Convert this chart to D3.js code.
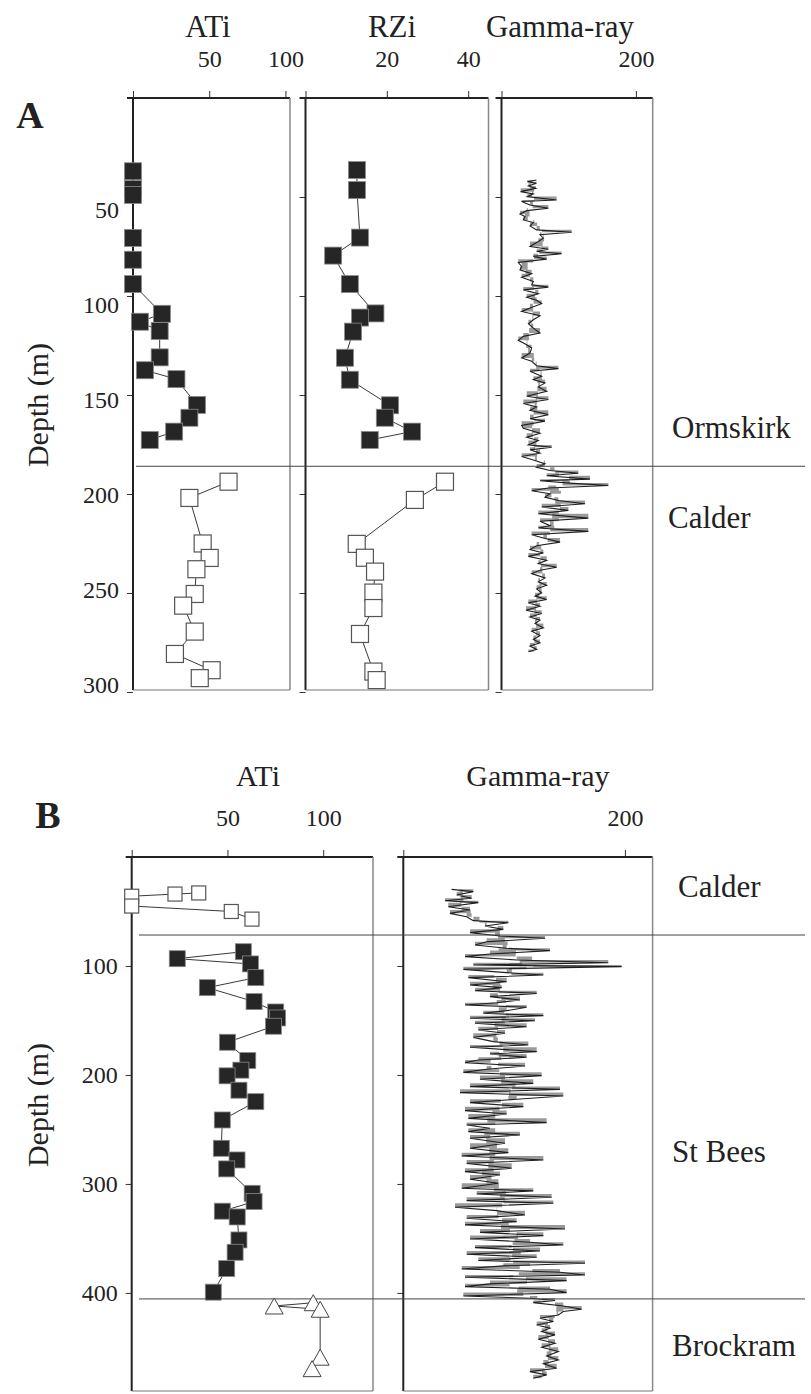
<!DOCTYPE html>
<html>
<head>
<meta charset="utf-8">
<script src="https://cdn.jsdelivr.net/npm/d3@7"></script>
<style>
body { margin: 0; background: #fff; }
svg text { font-family: "Liberation Serif", "Times New Roman", serif; fill: #222; }
</style>
</head>
<body>
<div id="chart"></div>
<script>
// ---- panel A (borehole 1) ----
var atiADepthOrm = [37, 46, 49, 70.7, 81.7, 94, 109, 113, 117.7, 131, 137.5, 142, 155, 161.5, 168.5, 172.7];
var atiAOrm = [0, 0, 0, 0, 0, 0, 19, 4.5, 17.5, 17.5, 7.8, 28.5, 42, 37, 27, 11];
var atiADepthCal = [193.8, 202, 225, 232.3, 238, 250.5, 256.4, 269.5, 280.8, 289, 293];
var atiACal = [62.7, 37, 45.7, 50.3, 41.6, 40.5, 32.9, 40.5, 27.5, 51.6, 43.8];

var rziADepthOrm = [36.4, 46.5, 70.5, 79.6, 94, 108.8, 110.9, 118, 131.2, 142.3, 155.2, 161.5, 168.5, 172.7];
var rziAOrm = [12.65, 12.65, 13.4, 6.8, 10.9, 17.2, 13.4, 11.7, 9.7, 10.9, 20.8, 19.5, 26.2, 15.8];
var rziADepthCal = [193.8, 203, 225.2, 232.2, 239.2, 249.8, 257.6, 270.7, 289.7, 294];
var rziACal = [34.3, 26.9, 12.6, 14.6, 17.1, 16.7, 16.7, 13.4, 16.7, 17.5];

var gammaADepth = [41.4, 42.3, 43.1, 44.4, 45.6, 47.3, 48.5, 49.8, 51.5, 52.3, 54, 55.7, 56.9, 58.6, 59.9, 61.6, 62.9, 64.6, 66.6, 67.8,
  69.1, 70.8, 72.5, 75, 76.4, 77.5, 78.7, 80, 81.4, 83.1, 85.1, 86.8, 88.8, 90.5, 92.7, 94.3, 95.5, 96.9, 98.9, 100.6,
  102.2, 103.9, 106.1, 107.8, 110, 112, 114, 116.2, 118.7, 120.4, 122.4, 124.6, 126.3, 128.8, 131.3, 133, 135.2, 136.7, 138, 140.5,
  142.2, 143.9, 145.9, 148.1, 150.6, 152.3, 154.3, 156, 157.7, 159.9, 162, 163.2, 165.4, 166.8, 169.3, 171.3, 173, 175.2, 176.4, 177.7,
  179.4, 181.1, 183.1, 184.8, 186.5, 188.1, 189.5, 190.8, 192.5, 193.3, 194.5, 195.7, 197, 198.4, 199.9, 201.6, 203.3, 204.9, 206.6, 208.3,
  210, 212.2, 213.8, 216, 217.2, 218.9, 220.6, 222.2, 224.3, 226.1, 228.1, 229.8, 231.5, 233.5, 235.2, 237, 238.5, 240.2, 242.4, 244.4,
  246.1, 247.9, 249.9, 251.6, 253.3, 255, 256.7, 258.7, 260.4, 262.1, 263.7, 265.4, 267.6, 269.3, 271.5, 273.5, 275.2, 276.8, 278.5, 279.7];
var gammaA = [52, 38.5, 52, 40, 51, 28.5, 47.4, 38.5, 82, 30, 42.4, 69.7, 37.5, 27.5, 35, 32.5, 47.4, 42.4, 52.3, 104.4,
  57.3, 62.3, 54.8, 42.4, 69.7, 52.3, 89.5, 47.4, 67.2, 25, 30, 27.5, 44.9, 30, 47.4, 44.9, 69.7, 32.5, 54.8, 37.5,
  52.3, 59.8, 42.4, 30, 57.3, 47.4, 40, 47.4, 57.3, 32.5, 25, 37.5, 44.9, 42.4, 30, 44.9, 52.3, 84.6, 42.4, 59.8,
  47.4, 64.7, 54.8, 67.2, 37.5, 69.7, 32.5, 52.3, 42.4, 69.7, 42.4, 64.7, 30, 32.5, 57.3, 37.5, 54.8, 40, 74.7, 42.4,
  57.3, 30, 49.9, 64.7, 52.3, 72.2, 114.3, 67.2, 131.7, 57.3, 101.9, 159, 69.7, 44.9, 72.2, 64.7, 84.6, 124.3, 59.8, 99.5,
  54.8, 129.2, 57.3, 72.2, 54.8, 129.2, 44.9, 62.3, 87.1, 52.3, 42.4, 62.3, 40, 67.2, 54.8, 82.1, 57.3, 44.9, 64.7, 54.8,
  67.2, 52.3, 59.8, 49.9, 67.2, 40, 57.3, 36.5, 59.8, 42.4, 57.3, 49.9, 62.3, 44.9, 57.3, 47.4, 57.3, 42.4, 52.3, 40];

var depthTicksA = [50, 100, 150, 200, 250, 300];
var atiTicksA = [0, 50, 100];
var rziTicksA = [0, 20, 40];
var gammaTicks = [0, 200];
var unitsA = ["Ormskirk", "Calder"];
var boundaryA = [186];

// ---- panel B (borehole 2) ----
var atiBDepthCal = [33, 34, 36, 45, 50, 57];
var atiBCal = [35, 22.6, 0, 0, 52, 62.8];
var atiBDepthStb = [86.9, 93.3, 98.1, 110.7, 119.9, 132.7, 142.2, 147.7, 155.3, 170, 186.8, 195.6, 200.8, 214, 224.5,
  241.3, 267.3, 278, 286.2, 308.6, 316.2, 325, 330.3, 351.4, 362.7, 377.7, 399.3];
var atiBStb = [58.3, 23.8, 62, 64.8, 39.5, 63.9, 75.2, 76.2, 74, 50, 60.6, 57, 49.8, 56, 64.8,
  47.3, 46.8, 55, 49.6, 62.9, 63.9, 47.3, 55.1, 56, 54, 49.6, 42.6];
var atiBDepthBro = [409, 412, 415, 459, 469.5];
var atiBBro = [94.8, 74.4, 98.4, 98.4, 94.2];

var gammaBDepth = [29.7, 31.8, 34.9, 37.9, 40.1, 41.9, 45.6, 48.6, 51.7, 54.8, 58.4, 60.3, 63.3, 66.4, 69.4, 72.5, 74.6, 77.7, 80.8, 83.8,
  85.9, 89, 91.4, 94.5, 97, 99.1, 100.6, 103.1, 106.1, 108.3, 110.7, 114.4, 117.4, 119.9, 122.7, 125.1, 128.1, 131.2, 133.7, 135.8,
  137.9, 141, 143.4, 145.6, 148, 150.2, 152.6, 155.7, 158.7, 161.8, 165.5, 169.4, 172.5, 174.6, 178.6, 180.7, 183.8, 186.3, 188.7, 191.8,
  194.8, 197.6, 200.6, 204, 207.7, 210.7, 213.2, 216.2, 219.3, 222.3, 225.4, 229.1, 232.7, 235.8, 239.8, 243.7, 245.9, 248.9, 252, 255.1,
  258.1, 262.7, 267.3, 271.3, 274.3, 278, 281.1, 285.6, 288.7, 291.8, 295.7, 299.4, 304, 306.4, 309.2, 312.2, 315.3, 317.7, 321.4, 324.5,
  328.5, 331.5, 334.6, 337.6, 341.3, 344.4, 347.4, 350.5, 353.5, 356, 358.4, 361.5, 364.5, 367.3, 370.3, 372.8, 375.2, 378, 381, 383.5,
  385.6, 388.7, 391.7, 394.2, 396.6, 399.7, 402.8, 404.9, 407, 408.9, 412, 415, 417.1, 420.2, 423.2, 426.3, 429.4, 432.4, 435.5, 438.5,
  442.5, 446.2, 449.9, 453.8, 457.8, 461.5, 465.1, 469.1, 472.2, 475.2, 478.3];
var gammaB = [43.6, 63.2, 48.2, 61.7, 37.6, 67.7, 40.6, 60.2, 42.1, 57.2, 63.2, 94.8, 73.7, 90.3, 60.2, 87.3, 127.9, 75.2, 64.7, 93.3,
  132.4, 78.2, 55.7, 102.3, 185, 63.2, 197, 54.2, 93.3, 126.4, 58.7, 93.3, 60.2, 88.8, 64.7, 120.4, 78.2, 105.3, 84.3, 55.7,
  111.3, 93.3, 72.2, 126.4, 60.2, 118.8, 64.7, 111.3, 67.7, 91.8, 63.2, 81.2, 112.8, 60.2, 120.4, 78.2, 111.3, 67.7, 55.7, 109.8,
  75.2, 54.2, 124.9, 69.2, 117.3, 60.2, 141.4, 51.2, 144.4, 102.3, 60.2, 108.3, 55.7, 93.3, 58.7, 129.4, 57.2, 78.2, 58.7, 105.3,
  60.2, 91.8, 60.2, 94.8, 52.7, 126.4, 57.2, 97.8, 55.7, 87.3, 60.2, 85.8, 52.7, 117.3, 66.2, 133.9, 57.2, 135.4, 46.7, 84.3,
  109.8, 57.2, 102.3, 55.7, 145.9, 69.2, 126.4, 60.2, 114.3, 144.4, 64.7, 123.4, 57.2, 120.4, 67.7, 164, 90.3, 52.7, 141.4, 164,
  55.7, 147.4, 78.2, 55.7, 132.4, 147.4, 54.2, 114.3, 136.9, 117.3, 144.4, 161, 144.4, 139.9, 123.4, 135.4, 120.4, 132.4, 124.9, 136.9,
  121.9, 136.9, 124.9, 139.9, 129.4, 139.9, 126.4, 138.4, 114.3, 129.4, 117.3];

var depthTicksB = [100, 200, 300, 400];
var atiTicksB = [0, 50, 100];
var unitsB = ["Calder", "St Bees", "Brockram"];
var boundaryB = [71.6, 405.5];

var W = 811, H = 1394;
var FONT = "'Liberation Serif', 'Times New Roman', serif";
var svg = d3.select("#chart").append("svg").attr("width", W).attr("height", H);

// depth scales
var yA = d3.scaleLinear().domain([0, 299]).range([98, 690]);
var yB = d3.scaleLinear().domain([0, 490]).range([857, 1391]);
// in A the printed depth labels drift slightly from the tick marks
var yALabel = d3.scaleLinear().domain([50, 300]).range([210, 685]);

// x scales
var xAtiA = d3.scaleLinear().domain([0, 103]).range([133, 290]);
var xRziA = d3.scaleLinear().domain([0, 45]).range([305.5, 488.5]);
var xGamA = d3.scaleLinear().domain([0, 225]).range([501.5, 652.7]);
var xAtiB = d3.scaleLinear().domain([0, 126]).range([131.7, 373]);
var xGamB = d3.scaleLinear().domain([0, 225]).range([403.3, 652.6]);

function frame(x, y, xTicks, xLabels, yTicks, yLabel) {
  var x0 = x.range()[0], x1 = x.range()[1], y0 = y.range()[0], y1 = y.range()[1];
  var g = svg.append("g");
  // top axis
  var top = g.append("g").attr("transform", "translate(0," + y0 + ")")
    .call(d3.axisTop(x).tickValues(xTicks).tickSize(7).tickPadding(24)
      .tickFormat(function(d) { return xLabels.indexOf(d) >= 0 ? d : ""; }))
    .attr("font-family", FONT).attr("font-size", 24);
  top.select(".domain").remove();
  top.selectAll("line").attr("stroke", "#333");
  top.selectAll("text").attr("fill", "#222");
  // left axis
  var left = g.append("g").attr("transform", "translate(" + x0 + ",0)")
    .call(d3.axisLeft(y).tickValues(yTicks).tickSize(6).tickPadding(8)
      .tickFormat(yLabel ? d3.format("d") : ""))
    .attr("font-family", FONT).attr("font-size", 24);
  left.select(".domain").remove();
  left.selectAll("line").attr("stroke", "#333");
  left.selectAll("text").attr("fill", "#222");
  if (yLabel && yLabel !== y) {
    left.selectAll(".tick text").attr("transform", function(d) { return "translate(0," + (yLabel(d) - y(d)) + ")"; });
  }

  g.append("line").attr("x1", x0 - 6).attr("x2", x1).attr("y1", y0).attr("y2", y0)
    .attr("stroke", "#222").attr("stroke-width", 1.8);
  g.append("line").attr("x1", x0).attr("x2", x0).attr("y1", y0).attr("y2", y1)
    .attr("stroke", "#222").attr("stroke-width", 2);
  g.append("line").attr("x1", x1).attr("x2", x1).attr("y1", y0).attr("y2", y1)
    .attr("stroke", "#888").attr("stroke-width", 1.5);
  g.append("line").attr("x1", x0).attr("x2", x1).attr("y1", y1).attr("y2", y1)
    .attr("stroke", "#777").attr("stroke-width", 1.2);
}

function series(x, y, depths, vals, kind, size) {
  var pts = depths.map(function(d, i) { return [x(vals[i]), y(d)]; });
  svg.append("path").attr("d", d3.line()(pts))
    .attr("fill", "none").attr("stroke", "#222").attr("stroke-width", 0.9);
  var h = size / 2;
  if (kind === "tri") {
    svg.selectAll(null).data(pts).enter().append("path")
      .attr("d", function(p) {
        return "M" + p[0] + "," + (p[1] - h) + "L" + (p[0] + h + 1) + "," + (p[1] + h) + "L" + (p[0] - h - 1) + "," + (p[1] + h) + "Z";
      })
      .attr("fill", "#fff").attr("stroke", "#444").attr("stroke-width", 1);
  } else {
    svg.selectAll(null).data(pts).enter().append("rect")
      .attr("x", function(p) { return p[0] - h; })
      .attr("y", function(p) { return p[1] - h; })
      .attr("width", size).attr("height", size)
      .attr("fill", kind === "filled" ? "#262626" : "#fff")
      .attr("stroke", kind === "filled" ? "#8a8a8a" : "#555")
      .attr("stroke-width", kind === "filled" ? 0.8 : 1.2);
  }
}

function gammaLog(x, y, depths, vals) {
  // running mean as the reference for the grey fill
  var base = vals.map(function(v, i) {
    return d3.mean(vals.slice(Math.max(0, i - 3), i + 4));
  });
  var rows = depths.map(function(d, i) { return { d: d, v: vals[i], b: base[i] }; });
  svg.append("path").datum(rows)
    .attr("d", d3.area().y(function(r) { return y(r.d); })
      .x0(function(r) { return x(r.b); }).x1(function(r) { return x(r.v); })
      .curve(d3.curveStepAfter))
    .attr("fill", "#9a9a9a");
  svg.append("path").datum(rows)
    .attr("d", d3.line().x(function(r) { return x(r.v); }).y(function(r) { return y(r.d); }))
    .attr("fill", "none").attr("stroke", "#1e1e1e").attr("stroke-width", 1.1);
}

function boundary(y, depths, xStart) {
  svg.selectAll(null).data(depths).enter().append("line")
    .attr("x1", xStart).attr("x2", 805)
    .attr("y1", function(d) { return y(d); }).attr("y2", function(d) { return y(d); })
    .attr("stroke", "#444").attr("stroke-width", 1);
}

function label(txt, x, y, size, anchor, bold) {
  return svg.append("text").attr("x", x).attr("y", y).attr("font-size", size)
    .attr("font-family", FONT)
    .attr("text-anchor", anchor || "middle").attr("font-weight", bold ? "bold" : "normal").text(txt);
}

// ---- panel A ----
frame(xAtiA, yA, atiTicksA, [50, 100], depthTicksA, yALabel);
frame(xRziA, yA, rziTicksA, [20, 40], depthTicksA, null);
frame(xGamA, yA, gammaTicks, [200], depthTicksA, null);

gammaLog(xGamA, yA, gammaADepth, gammaA);
boundary(yA, boundaryA, 136);

series(xAtiA, yA, atiADepthOrm, atiAOrm, "filled", 17);
series(xAtiA, yA, atiADepthCal, atiACal, "open", 17);
series(xRziA, yA, rziADepthOrm, rziAOrm, "filled", 17);
series(xRziA, yA, rziADepthCal, rziACal, "open", 17);

label("ATi", 208, 37, 31);
label("RZi", 392, 37, 31);
label("Gamma-ray", 560, 37, 31);
label("A", 30, 128, 38, "middle", true);
label("Depth (m)", 0, 0, 30).attr("transform", "translate(48,405) rotate(-90)");
label(unitsA[0], 672, yA(171.7), 31, "start");
label(unitsA[1], 668, yA(217), 31, "start");

// ---- panel B ----
frame(xAtiB, yB, atiTicksB, [50, 100], depthTicksB, yB);
frame(xGamB, yB, gammaTicks, [200], depthTicksB, null);

gammaLog(xGamB, yB, gammaBDepth, gammaB);
boundary(yB, boundaryB, 139);

series(xAtiB, yB, atiBDepthCal, atiBCal, "open", 14);
series(xAtiB, yB, atiBDepthStb, atiBStb, "filled", 16);
series(xAtiB, yB, atiBDepthBro, atiBBro, "tri", 16);

label("ATi", 258, 786, 30);
label("Gamma-ray", 538, 786, 30);
label("B", 48, 828, 38, "middle", true);
label("Depth (m)", 0, 0, 30).attr("transform", "translate(48,1105) rotate(-90)");
label(unitsB[0], 678, yB(36.7), 31, "start");
label(unitsB[1], 672, yB(280), 31, "start");
label(unitsB[2], 672, yB(458), 31, "start");
</script>
</body>
</html>
